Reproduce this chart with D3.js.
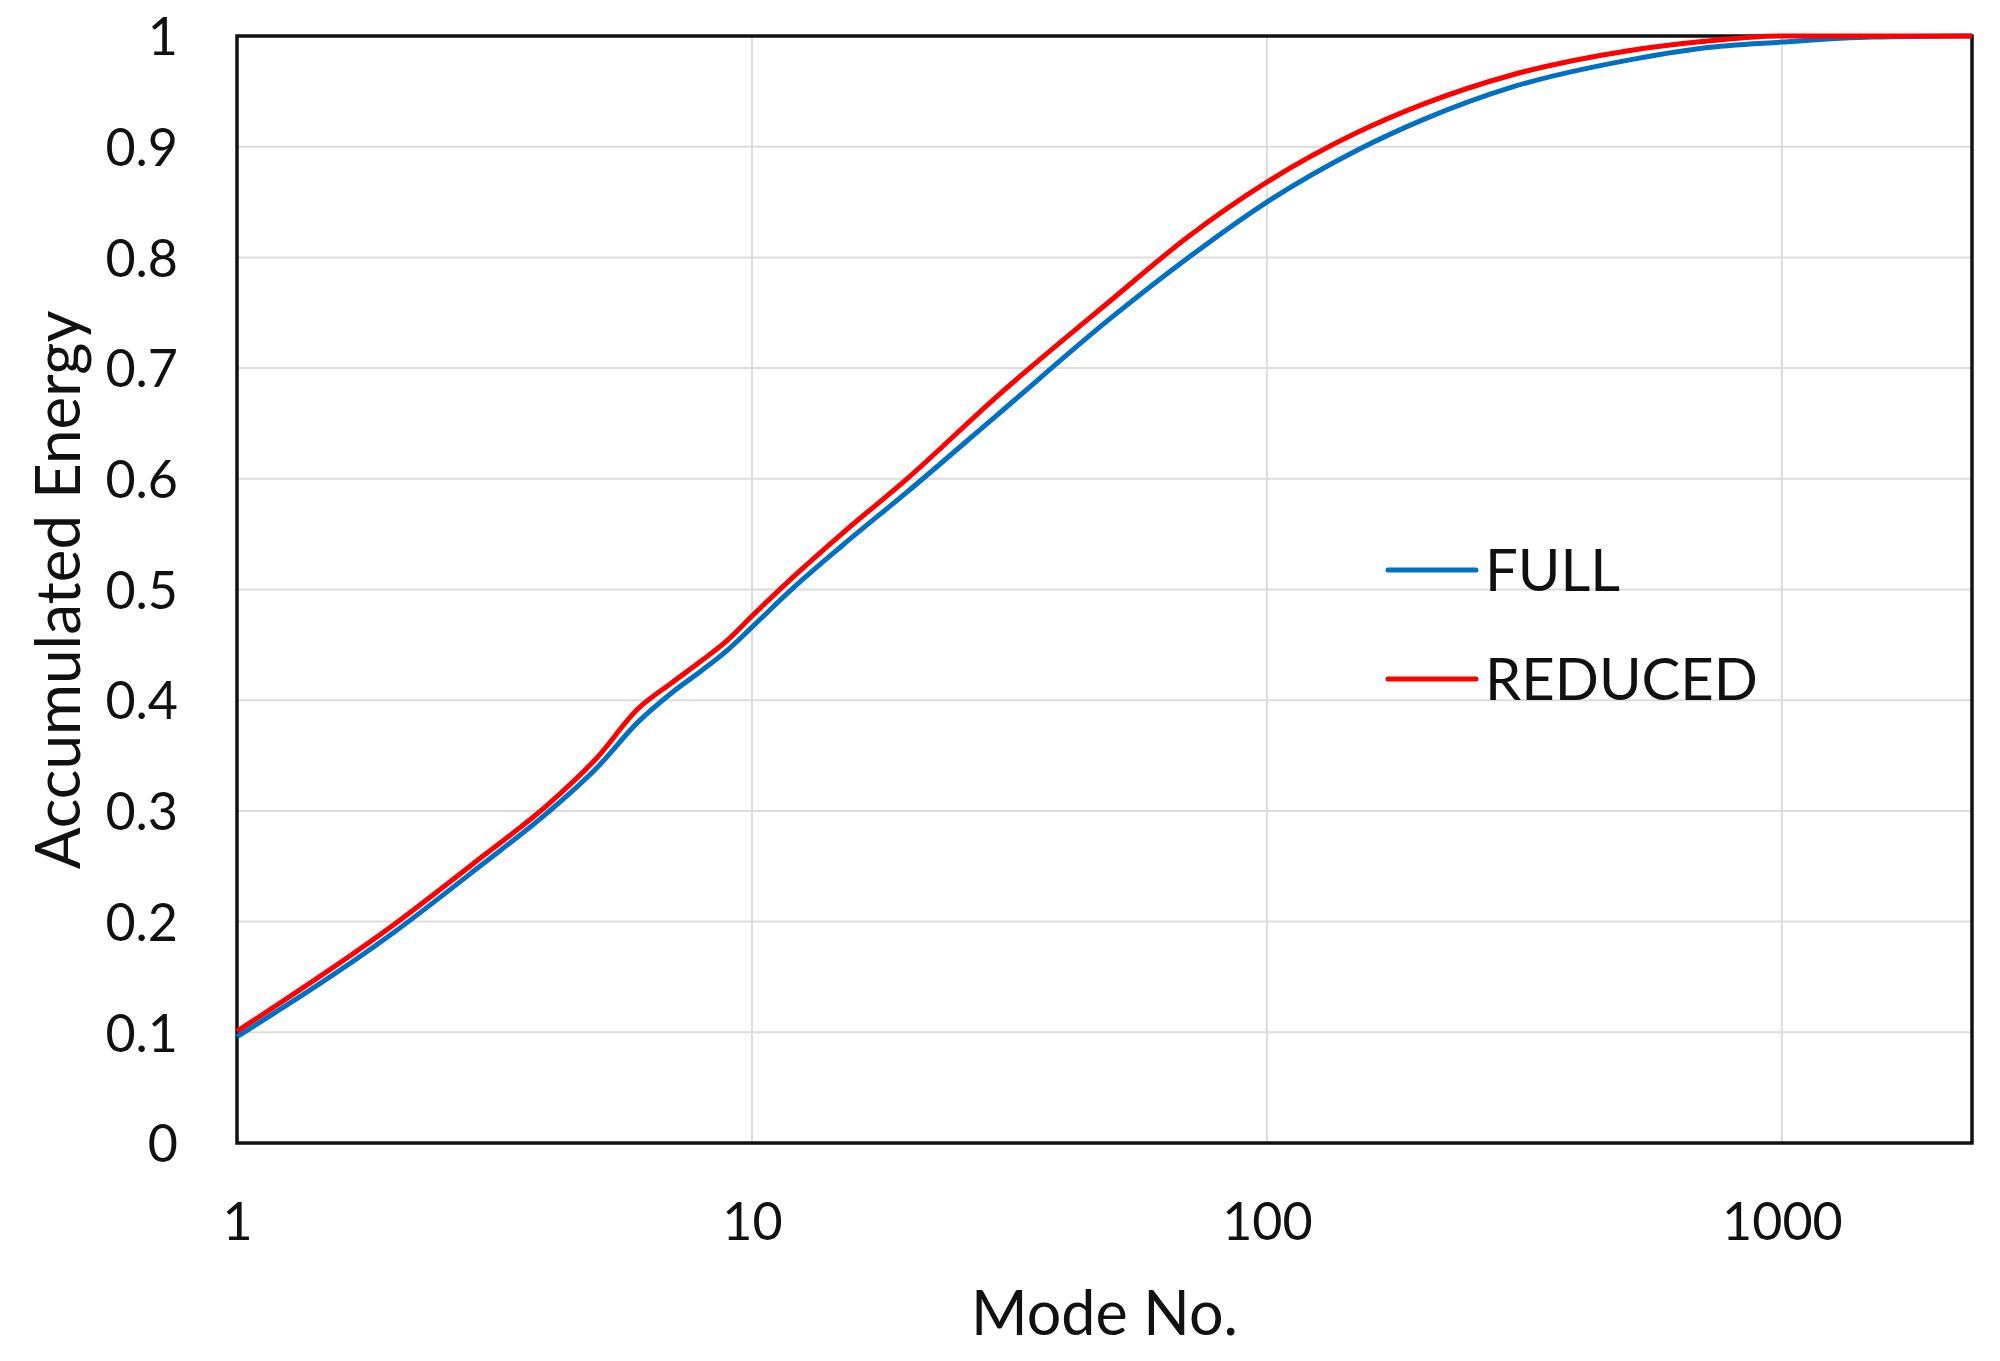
<!DOCTYPE html>
<html>
<head>
<meta charset="utf-8">
<script src="https://cdn.jsdelivr.net/npm/d3@7"></script>
<style>
  html, body { margin: 0; padding: 0; background: #ffffff; }
  svg { display: block; }
</style>
</head>
<body>
<svg id="chart" width="2000" height="1361"></svg>
<script>
// ---- data ----
const modes = [1, 2, 3, 4, 5, 6, 7, 8, 9, 10, 12, 15, 20, 30, 50, 70, 100, 150, 200, 300, 500, 700, 1000, 1500, 2340];
const fullEnergy = [0.096, 0.189, 0.252, 0.298, 0.339, 0.380, 0.407, 0.427, 0.446, 0.466, 0.501, 0.540, 0.588, 0.658, 0.746, 0.799, 0.850, 0.897, 0.924, 0.954, 0.978, 0.989, 0.9945, 0.999, 1.0];
const reducedEnergy = [0.101, 0.196, 0.259, 0.305, 0.348, 0.392, 0.416, 0.436, 0.455, 0.476, 0.511, 0.551, 0.600, 0.675, 0.762, 0.818, 0.868, 0.913, 0.938, 0.965, 0.9865, 0.995, 1.0, 1.0, 1.0];
const seriesNames = ["FULL", "REDUCED"];
const xTickValues = [1, 10, 100, 1000];
const xTickLabels = ["1", "10", "100", "1000"];
const yTickValues = [0, 0.1, 0.2, 0.3, 0.4, 0.5, 0.6, 0.7, 0.8, 0.9, 1];
const yTickLabels = ["0", "0.1", "0.2", "0.3", "0.4", "0.5", "0.6", "0.7", "0.8", "0.9", "1"];
const xTitle = "Mode No.";
const yTitle = "Accumulated Energy";

// ---- layout ----
const L = 237, R = 1972, T = 36, B = 1143;
const colors = ["#0070C0", "#FF0000"];
const FONT = "Lato, 'Open Sans', sans-serif";

const svg = d3.select("#chart");
const x = d3.scaleLog().domain([1, 2340]).range([L, R]);
const y = d3.scaleLinear().domain([0, 1]).range([B, T]);

// gridlines
svg.append("g")
  .selectAll("line")
  .data(yTickValues.slice(1, -1))
  .join("line")
  .attr("x1", L).attr("x2", R)
  .attr("y1", d => y(d)).attr("y2", d => y(d))
  .attr("stroke", "#dcdcdc").attr("stroke-width", 2);
svg.append("g")
  .selectAll("line")
  .data(xTickValues.slice(1))
  .join("line")
  .attr("x1", d => x(d)).attr("x2", d => x(d))
  .attr("y1", T).attr("y2", B)
  .attr("stroke", "#dcdcdc").attr("stroke-width", 2);

// frame
svg.append("rect")
  .attr("x", L).attr("y", T)
  .attr("width", R - L).attr("height", B - T)
  .attr("fill", "none").attr("stroke", "#111").attr("stroke-width", 3.5);

// axes (labels only)
const yAxis = d3.axisLeft(y).tickValues(yTickValues)
  .tickFormat((d, i) => yTickLabels[i]).tickSize(0).tickPadding(59);
const gy = svg.append("g").attr("transform", `translate(${L},0)`).call(yAxis);
gy.select(".domain").remove();
gy.selectAll("text").attr("font-family", FONT).attr("font-size", 52).attr("fill", "#111")
  .attr("dy", "0.36em");

const xAxis = d3.axisBottom(x).tickValues(xTickValues)
  .tickFormat((d, i) => xTickLabels[i]).tickSize(0).tickPadding(60);
const gx = svg.append("g").attr("transform", `translate(0,${B})`).call(xAxis);
gx.select(".domain").remove();
gx.selectAll("text").attr("font-family", FONT).attr("font-size", 52).attr("fill", "#111");

// axis titles
svg.append("text")
  .attr("x", (L + R) / 2).attr("y", 1335)
  .attr("text-anchor", "middle")
  .attr("font-family", FONT).attr("font-size", 61).attr("fill", "#111")
  .text(xTitle);
svg.append("text")
  .attr("transform", "translate(80,590) rotate(-90)")
  .attr("text-anchor", "middle")
  .attr("font-family", FONT).attr("font-size", 62).attr("fill", "#111")
  .text(yTitle);

// lines
const line = d3.line()
  .x(d => x(d[0])).y(d => y(d[1]))
  .curve(d3.curveMonotoneX);
const series = [fullEnergy, reducedEnergy];
series.forEach((vals, i) => {
  svg.append("path")
    .datum(modes.map((m, j) => [m, vals[j]]))
    .attr("d", line)
    .attr("fill", "none")
    .attr("stroke", colors[i])
    .attr("stroke-width", 5)
    .attr("stroke-linejoin", "round");
});

// legend
const legendY = [570, 679];
seriesNames.forEach((name, i) => {
  svg.append("line")
    .attr("x1", 1388).attr("x2", 1476)
    .attr("y1", legendY[i]).attr("y2", legendY[i])
    .attr("stroke", colors[i]).attr("stroke-width", 5).attr("stroke-linecap", "round");
  svg.append("text")
    .attr("x", 1485).attr("y", legendY[i] + 21)
    .attr("font-family", FONT).attr("font-size", 58).attr("fill", "#111")
    .text(name);
});
</script>
</body>
</html>
